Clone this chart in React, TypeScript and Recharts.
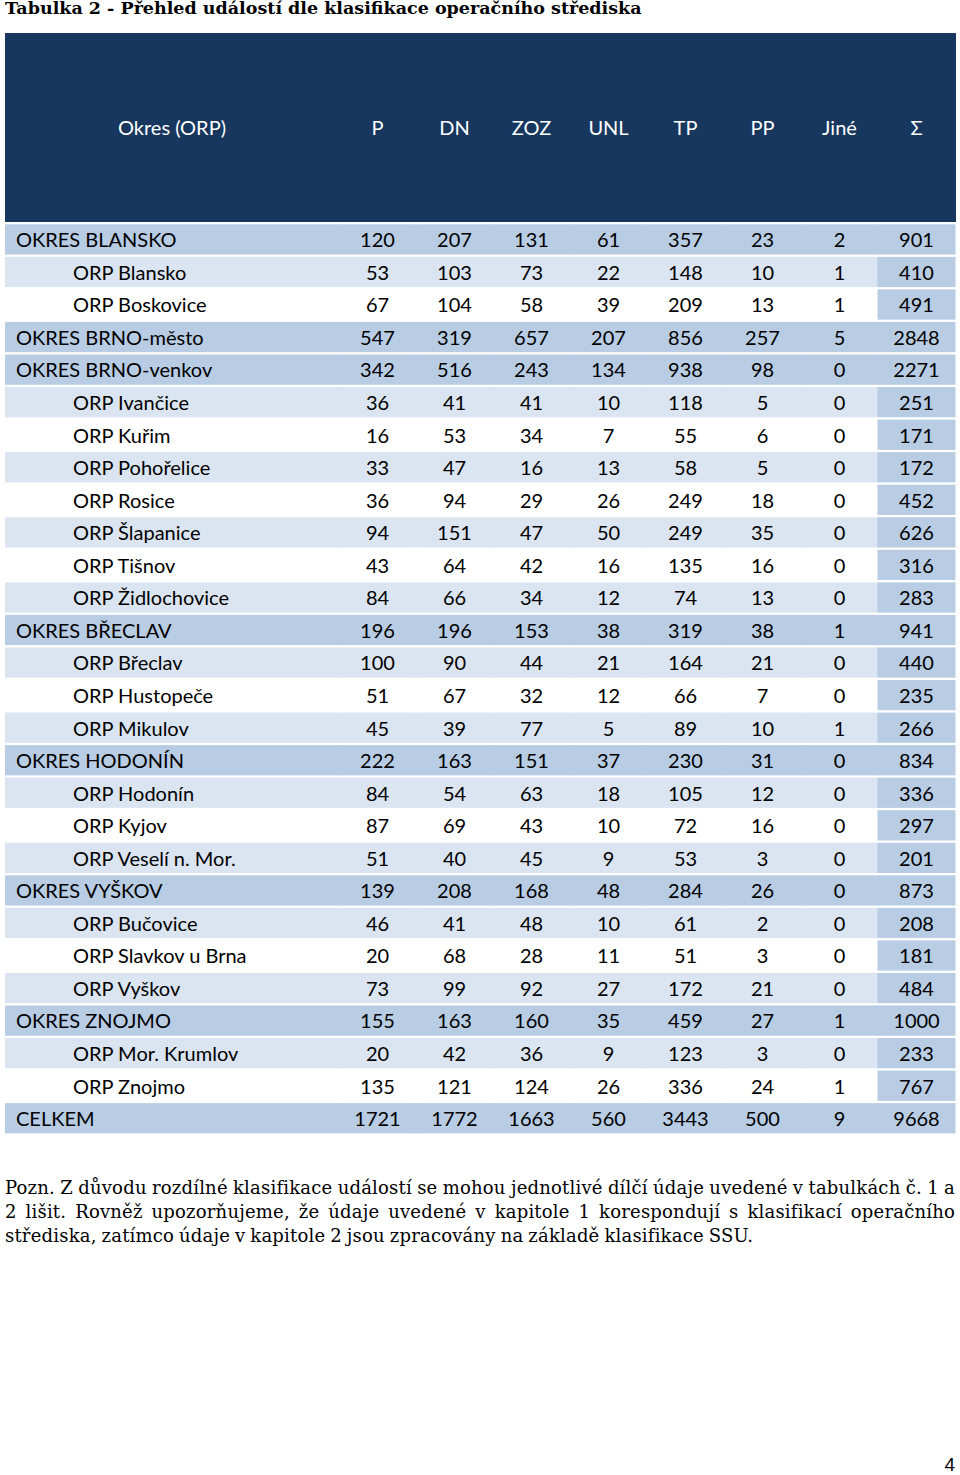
import { ScatterChart, Scatter, XAxis, YAxis } from 'recharts';

const columns = ['P', 'DN', 'ZOZ', 'UNL', 'TP', 'PP', 'Jiné', 'Σ'];

const rowNames = [
  'OKRES BLANSKO', 'ORP Blansko', 'ORP Boskovice', 'OKRES BRNO-město', 'OKRES BRNO-venkov',
  'ORP Ivančice', 'ORP Kuřim', 'ORP Pohořelice', 'ORP Rosice', 'ORP Šlapanice', 'ORP Tišnov',
  'ORP Židlochovice', 'OKRES BŘECLAV', 'ORP Břeclav', 'ORP Hustopeče', 'ORP Mikulov',
  'OKRES HODONÍN', 'ORP Hodonín', 'ORP Kyjov', 'ORP Veselí n. Mor.', 'OKRES VYŠKOV',
  'ORP Bučovice', 'ORP Slavkov u Brna', 'ORP Vyškov', 'OKRES ZNOJMO', 'ORP Mor. Krumlov',
  'ORP Znojmo', 'CELKEM',
];

const P = [120, 53, 67, 547, 342, 36, 16, 33, 36, 94, 43, 84, 196, 100, 51, 45, 222, 84, 87, 51, 139, 46, 20, 73, 155, 20, 135, 1721];
const DN = [207, 103, 104, 319, 516, 41, 53, 47, 94, 151, 64, 66, 196, 90, 67, 39, 163, 54, 69, 40, 208, 41, 68, 99, 163, 42, 121, 1772];
const ZOZ = [131, 73, 58, 657, 243, 41, 34, 16, 29, 47, 42, 34, 153, 44, 32, 77, 151, 63, 43, 45, 168, 48, 28, 92, 160, 36, 124, 1663];
const UNL = [61, 22, 39, 207, 134, 10, 7, 13, 26, 50, 16, 12, 38, 21, 12, 5, 37, 18, 10, 9, 48, 10, 11, 27, 35, 9, 26, 560];
const TP = [357, 148, 209, 856, 938, 118, 55, 58, 249, 249, 135, 74, 319, 164, 66, 89, 230, 105, 72, 53, 284, 61, 51, 172, 459, 123, 336, 3443];
const PP = [23, 10, 13, 257, 98, 5, 6, 5, 18, 35, 16, 13, 38, 21, 7, 10, 31, 12, 16, 3, 26, 2, 3, 21, 27, 3, 24, 500];
const JINE = [2, 1, 1, 5, 0, 0, 0, 0, 0, 0, 0, 0, 1, 0, 0, 1, 0, 0, 0, 0, 0, 0, 0, 0, 1, 0, 1, 9];
const SUMA = [901, 410, 491, 2848, 2271, 251, 171, 172, 452, 626, 316, 283, 941, 440, 235, 266, 834, 336, 297, 201, 873, 208, 181, 484, 1000, 233, 767, 9668];

const columnValues = [P, DN, ZOZ, UNL, TP, PP, JINE, SUMA];

const cells = rowNames.flatMap((row, r) =>
  columns.map((col, c) => ({ row, col, r, c, value: columnValues[c][r] })),
);

const W = 960;
const H = 1138;
const M = { top: 33, left: 5, right: 5, bottom: 4.6 };
const NAME_W = 334;
const HEAD_H = 189;
const COL_W = (W - M.left - M.right - NAME_W) / columns.length;
const ROW_H = (H - M.top - M.bottom - HEAD_H) / rowNames.length;
const GAP = 2.3;
const HEAD_MID = M.top + HEAD_H / 2;
const TEXT_DY = '0.45em';
const HEAD_DY = '0.36em';

const NAVY = '#17375e';
const DARK = '#b8cce4';
const LIGHT = '#dbe5f1';
const FONT = 'Lato, "Open Sans", sans-serif';

const isSub = (name: string) => name.startsWith('ORP');

function rowFill(r: number) {
  if (!isSub(rowNames[r])) return DARK;
  return r % 2 === 1 ? LIGHT : '#ffffff';
}

function cellFill(r: number, c: number) {
  if (c === columns.length - 1) return DARK;
  return rowFill(r);
}

function CellShape(props: any) {
  const { cx, cy, payload } = props;
  if (cx == null || cy == null) return null;
  return (
    <g>
      <rect
        x={cx - COL_W / 2 - 0.5}
        y={cy - ROW_H / 2 + GAP}
        width={COL_W + 1}
        height={ROW_H - GAP}
        fill={cellFill(payload.r, payload.c)}
      />
      <text x={cx} y={cy} dy={TEXT_DY} textAnchor="middle" fontFamily={FONT} fontSize={20} fill="#000">
        {payload.value}
      </text>
    </g>
  );
}

function NameTick(props: any) {
  const { y, payload } = props;
  const name: string = payload.value;
  const r = rowNames.indexOf(name);
  return (
    <g>
      <rect x={M.left} y={y - ROW_H / 2 + GAP} width={NAME_W + 0.5} height={ROW_H - GAP} fill={rowFill(r)} />
      <text x={isSub(name) ? 73 : 16} y={y} dy={TEXT_DY} textAnchor="start" fontFamily={FONT} fontSize={20} fill="#000">
        {name}
      </text>
    </g>
  );
}

function HeadTick(props: any) {
  const { x, payload } = props;
  return (
    <g>
      <rect x={x - COL_W / 2 - 0.5} y={M.top} width={COL_W + 1} height={HEAD_H} fill={NAVY} />
      <text
        x={x}
        y={HEAD_MID}
        dy={HEAD_DY}
        textAnchor="middle"
        fontFamily={FONT}
        fontSize={20}
        fontWeight={400}
        fill="#ffffff"
        stroke="none"
      >
        {payload.value}
      </text>
    </g>
  );
}

function Table() {
  return (
    <ScatterChart width={W} height={H} margin={M}>
      <XAxis
        dataKey="col"
        type="category"
        scale="band"
        orientation="top"
        height={HEAD_H}
        allowDuplicatedCategory={false}
        axisLine={false}
        tickLine={false}
        interval={0}
        tick={<HeadTick />}
      />
      <YAxis
        dataKey="row"
        type="category"
        scale="band"
        width={NAME_W}
        reversed
        allowDuplicatedCategory={false}
        axisLine={false}
        tickLine={false}
        interval={0}
        tick={<NameTick />}
      />
      <text x={M.left + NAME_W / 2} y={HEAD_MID} dy={HEAD_DY} textAnchor="middle" fontFamily={FONT} fontSize={20} fill="#ffffff">
        Okres (ORP)
      </text>
      <Scatter data={cells} shape={<CellShape />} isAnimationActive={false} />
    </ScatterChart>
  );
}

const noteLine = {
  textAlign: 'justify' as const,
  textAlignLast: 'justify' as const,
  whiteSpace: 'nowrap' as const,
};

export default function App() {
  return (
    <div style={{ position: 'absolute', left: 0, top: 0, width: 960, height: 1475, background: '#fff' }}>
      <div
        style={{
          position: 'absolute', left: 5, top: -1, fontFamily: '"DejaVu Serif", serif', fontWeight: 'bold',
          fontSize: 17.5, lineHeight: '18px', color: '#000', whiteSpace: 'nowrap',
        }}
      >
        Tabulka 2 - Přehled událostí dle klasifikace operačního střediska
      </div>
      <div style={{ position: 'absolute', left: M.left, top: M.top, width: W - M.left - M.right, height: HEAD_H, background: NAVY }} />
      <div style={{ position: 'absolute', left: 0, top: 0 }}>
        <Table />
      </div>
      <div
        style={{
          position: 'absolute', left: 5, top: 1176, width: 950, fontFamily: '"DejaVu Serif", serif',
          fontSize: 18, letterSpacing: 0.2, wordSpacing: -1, lineHeight: '24px', color: '#000',
        }}
      >
        <div style={noteLine}>
          Pozn. Z důvodu rozdílné klasifikace událostí se mohou jednotlivé dílčí údaje uvedené v tabulkách č. 1 a
        </div>
        <div style={noteLine}>
          2 lišit. Rovněž upozorňujeme, že údaje uvedené v kapitole 1 korespondují s klasifikací operačního
        </div>
        <div style={{ whiteSpace: 'nowrap' }}>
          střediska, zatímco údaje v kapitole 2 jsou zpracovány na základě klasifikace SSU.
        </div>
      </div>
      <div style={{ position: 'absolute', right: 5, top: 1454, fontFamily: '"Liberation Sans", sans-serif', fontSize: 19, color: '#000' }}>
        4
      </div>
    </div>
  );
}
